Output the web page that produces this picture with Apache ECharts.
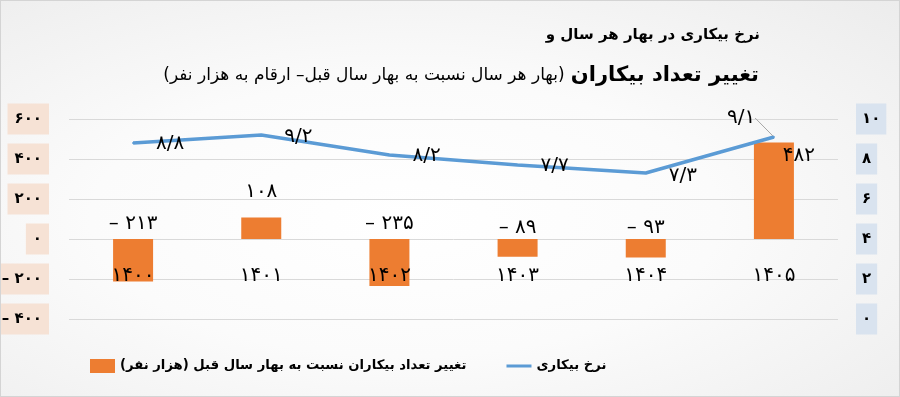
<!DOCTYPE html>
<html>
<head>
<meta charset="utf-8">
<script src="https://cdn.jsdelivr.net/npm/echarts@6/dist/echarts.min.js"></script>
<style>
html,body{margin:0;padding:0;}
#wrap{width:900px;height:397px;box-sizing:border-box;border:1px solid #d4d4d4;
background:radial-gradient(ellipse at 45% 55%, #ffffff 0%, #fbfbfb 45%, #ececec 100%);}
#chart{width:898px;height:395px;}
</style>
</head>
<body>
<div id="wrap"><div id="chart"></div></div>
<script>
// ---- data ----
const categories = ['1400', '1401', '1402', '1403', '1404', '1405'];
const unemployedChange = [-213, 108, -235, -89, -93, 482];   // thousand persons
const unemploymentRate = [8.8, 9.2, 8.2, 7.7, 7.3, 9.1];     // percent
const leftTicks = [-400, -200, 0, 200, 400, 600];
const rightTicks = [0, 2, 4, 6, 8, 10];

const titleLine1 = 'نرخ بیکاری در بهار هر سال و';
const titleBold = 'تغییر تعداد بیکاران';
const titleNote = '(بهار هر سال نسبت به بهار سال قبل– ارقام به هزار نفر)';
const barName = 'تغییر تعداد بیکاران نسبت به بهار سال قبل (هزار نفر)';
const lineName = 'نرخ بیکاری';

// ---- helpers ----
const RLM = '\u200F';
const LRO = '\u202D', PDF = '\u202C';
function toFa(v) {
  return String(v).replace(/[0-9]/g, d => '۰۱۲۳۴۵۶۷۸۹'[+d]).replace('.', '/');
}
function faNum(v) {
  return LRO + (v < 0 ? '– ' + toFa(Math.abs(v)) : toFa(v)) + PDF;
}
const FONT = 'DejaVu Sans';

// label nudges (visual tweaks, by data index)
const barLabelShift = [[0, 0], [0, -11], [0, 0], [0, 4], [0, 4], [25, 28]];
const lineLabelShift = [[0, 1], [0, 2], [0, 1], [0, 1], [0, 3], [-70, -19]];

const grid = {left: 68, right: 61, top: 118, bottom: 77};
const plotH = 395 - grid.top - grid.bottom;
const leftMin = leftTicks[0], leftMax = leftTicks[leftTicks.length - 1];
// place the category axis on the zero line of the left value axis
const zeroOffset = -plotH * (0 - leftMin) / (leftMax - leftMin);

const chart = echarts.init(document.getElementById('chart'), null, {renderer: 'canvas'});
const tick = leftTicks[1] - leftTicks[0];
const rtick = rightTicks[1] - rightTicks[0];

chart.setOption({
  animation: false,
  textStyle: {fontFamily: FONT},
  title: [
    {text: RLM + titleLine1 + RLM, right: 134, top: 22,
     textStyle: {fontFamily: FONT, fontSize: 15, fontWeight: 'bold', color: '#000'}},
    {text: '{n|' + RLM + titleNote + RLM + '} {b|' + RLM + titleBold + RLM + '}', right: 135, top: 59,
     textStyle: {rich: {
       n: {fontFamily: FONT, fontSize: 17, color: '#000', fontWeight: 'normal'},
       b: {fontFamily: FONT, fontSize: 21, color: '#000', fontWeight: 'bold'}
     }}}
  ],
  legend: {
    left: 84, top: 353, itemWidth: 25, itemHeight: 14, itemGap: 40,
    textStyle: {fontFamily: FONT, fontSize: 13.2, fontWeight: 'bold', color: '#000'},
    data: [{name: barName, icon: 'rect'},
           {name: lineName, icon: 'path://M0,0 M25,14 M0,5.5 L25,5.5 L25,8.5 L0,8.5 Z'}],
    formatter: n => RLM + n + RLM
  },
  grid: Object.assign({containLabel: false, outerBoundsMode: 'none'}, grid),
  xAxis: {
    type: 'category', data: categories, z: 10, position: 'bottom', offset: zeroOffset,
    axisLine: {show: false, onZero: false},
    axisTick: {show: false},
    axisLabel: {formatter: v => toFa(v), fontFamily: FONT, fontSize: 20, color: '#000', margin: 27}
  },
  yAxis: [
    {type: 'value', min: leftMin, max: leftMax, interval: tick,
     axisLine: {show: false}, axisTick: {show: false},
     splitLine: {lineStyle: {color: '#d9d9d9', width: 1}},
     axisLabel: {formatter: v => faNum(v), fontFamily: FONT, fontSize: 15, fontWeight: 'bold',
       color: '#000', margin: 20, backgroundColor: '#f6e2d5', padding: [7, 7], lineHeight: 17}},
    {type: 'value', min: rightTicks[0], max: rightTicks[rightTicks.length - 1], interval: rtick,
     position: 'right', axisLine: {show: false}, axisTick: {show: false}, splitLine: {show: false},
     axisLabel: {formatter: v => toFa(v), fontFamily: FONT, fontSize: 15, fontWeight: 'bold',
       color: '#000', margin: 18, backgroundColor: '#d9e3ef', padding: [7, 6], lineHeight: 17}}
  ],
  series: [
    {name: barName, type: 'bar', yAxisIndex: 0, data: unemployedChange, barWidth: 40,
     itemStyle: {color: '#ED7D31'}, z: 2,
     label: {show: true, position: 'top', distance: 5, formatter: p => faNum(p.value),
       fontFamily: FONT, fontSize: 20, color: '#000'},
     labelLayout: p => ({dx: barLabelShift[p.dataIndex][0], dy: barLabelShift[p.dataIndex][1]})},
    {name: lineName, type: 'line', yAxisIndex: 1, z: 5,
     data: unemploymentRate.map((v, i) => i === unemploymentRate.length - 1
       ? {value: v, labelLine: {show: true}} : v),
     symbol: 'circle', symbolSize: 2, showSymbol: true,
     lineStyle: {color: '#5B9BD5', width: 3.5}, itemStyle: {color: '#5B9BD5'},
     label: {show: true, position: 'right', distance: 22, formatter: p => toFa(p.value),
       fontFamily: FONT, fontSize: 20, color: '#000'},
     labelLine: {show: false, lineStyle: {color: '#a6a6a6', width: 1}},
     labelLayout: p => ({dx: lineLabelShift[p.dataIndex][0], dy: lineLabelShift[p.dataIndex][1]})}
  ]
});
</script>
</body>
</html>
